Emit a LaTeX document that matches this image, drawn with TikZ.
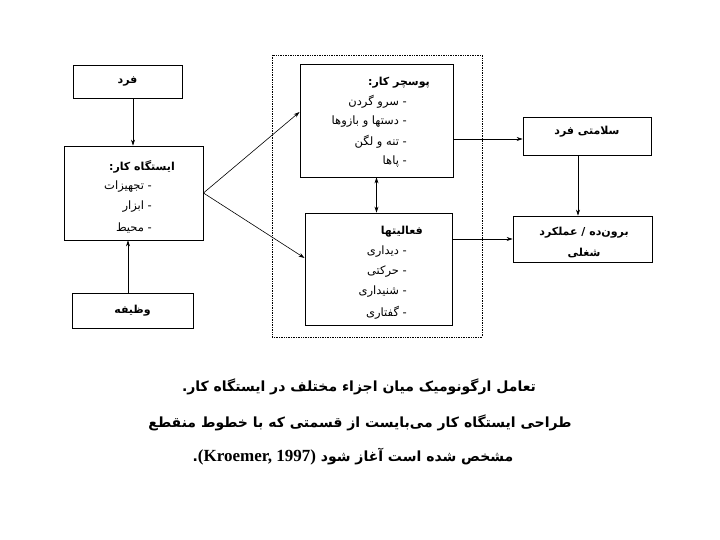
\documentclass[tikz,border=0pt]{standalone}
\usepackage{fontspec}
\usetikzlibrary{arrows.meta}
\TeXXeTstate=1
\newfontfamily\fa[Script=Arabic]{DejaVu Sans}
\newfontfamily\latb{Liberation Serif}
\newcommand{\RL}[1]{\beginR #1\endR}
\tikzset{
  box/.style={draw, line width=0.9pt, inner sep=0pt},
  arr/.style={line width=0.6pt, -{Stealth[length=6pt,width=4pt]}},
  darr/.style={line width=0.6pt, {Stealth[length=6pt,width=4pt]}-{Stealth[length=6pt,width=4pt]}},
  txt/.style={font=\fa\fontsize{11.5}{13}\selectfont, inner sep=0pt},
  head/.style={font=\fa\bfseries\fontsize{11}{13}\selectfont, inner sep=0pt},
  captext/.style={font=\fa\bfseries\fontsize{14}{17}\selectfont, inner sep=0pt},
  region/.style={draw, densely dotted, line width=0.7pt}
}
\begin{document}
\begin{tikzpicture}[x=1pt,y=-1pt]
\useasboundingbox[fill=white] (0,0) rectangle (720,540);

% dotted region
\draw[region] (272,55) rectangle (482,337);

% boxes
\node[box, minimum width=109pt, minimum height=33pt] (fard) at (127.5,81.5) {};
\node[box, minimum width=139pt, minimum height=94pt] (istgah) at (133.5,193) {};
\node[box, minimum width=121pt, minimum height=35pt] (vazife) at (132.5,310.5) {};
\node[box, minimum width=153pt, minimum height=113pt] (posture) at (376.5,120.5) {};
\node[box, minimum width=147pt, minimum height=112pt] (faal) at (378.5,269) {};
\node[box, minimum width=128pt, minimum height=38pt] (salamat) at (587,136) {};
\node[box, minimum width=139pt, minimum height=46pt] (borun) at (582.5,239) {};

% texts
\node[head] (tfard) at (127.5,81.5) {\RL{فرد}};

\node[head, anchor=east] (tist) at (175,167) {\RL{ایستگاه کار:}};
\node[txt, anchor=east] (tist1) at (152,187) {\RL{- تجهیزات}};
\node[txt, anchor=east] (tist2) at (152,207) {\RL{- ابزار}};
\node[txt, anchor=east] (tist3) at (152,228) {\RL{- محیط}};

\node[head] (tvaz) at (132.5,310.5) {\RL{وظیفه}};

\node[head, anchor=east] (tpos) at (430,83) {\RL{پوسچر کار:}};
\node[txt, anchor=east] (tpos1) at (407,102) {\RL{- سرو گردن}};
\node[txt, anchor=east] (tpos2) at (407,122) {\RL{- دستها و بازوها}};
\node[txt, anchor=east] (tpos3) at (407,142) {\RL{- تنه و لگن}};
\node[txt, anchor=east] (tpos4) at (407,162) {\RL{- پاها}};

\node[head, anchor=east] (tfaal) at (423,232) {\RL{فعالیتها}};
\node[txt, anchor=east] (tfaal1) at (407,252) {\RL{- دیداری}};
\node[txt, anchor=east] (tfaal2) at (407,272) {\RL{- حرکتی}};
\node[txt, anchor=east] (tfaal3) at (407,292) {\RL{- شنیداری}};
\node[txt, anchor=east] (tfaal4) at (407,313) {\RL{- گفتاری}};

\node[head] (tsal) at (587,132) {\RL{سلامتی فرد}};
\node[head] (tbor1) at (584,233) {\RL{برون‌ده / عملکرد}};
\node[head] (tbor2) at (584,253) {\RL{شغلی}};

% connectors
\draw[arr] ([xshift=5.5pt]fard.south) -- ([xshift=5.5pt]fard.south |- istgah.north);
\draw[arr] ([xshift=-4.5pt]vazife.north) -- ([xshift=-4.5pt]vazife.north |- istgah.south);
\draw[arr] (istgah.east) -- ([yshift=8.5pt]posture.west);
\draw[arr] (istgah.east) -- ([yshift=11pt]faal.west);
\draw[darr] (posture.south) -- (posture.south |- faal.north);
\draw[arr] ([yshift=-18.5pt]posture.east) -- ([yshift=-18.5pt]posture.east -| salamat.west);
\draw[arr] (borun.west -| faal.east) -- (borun.west);
\draw[arr] ([xshift=-9pt]salamat.south) -- ([xshift=-9pt]salamat.south |- borun.north);

% caption
\node[captext] (cap1) at (359,387) {\RL{تعامل ارگونومیک میان اجزاء مختلف در ایستگاه کار.}};
\node[captext] (cap2) at (360,423) {\RL{طراحی ایستگاه کار می‌بایست از قسمتی که با خطوط منقطع}};
\node[captext] (cap3) at (353,457) {\RL{مشخص شده است آغاز شود \beginL{\latb\bfseries\fontsize{17}{19}\selectfont(Kroemer, 1997)}\endL.}};
\end{tikzpicture}
\end{document}
